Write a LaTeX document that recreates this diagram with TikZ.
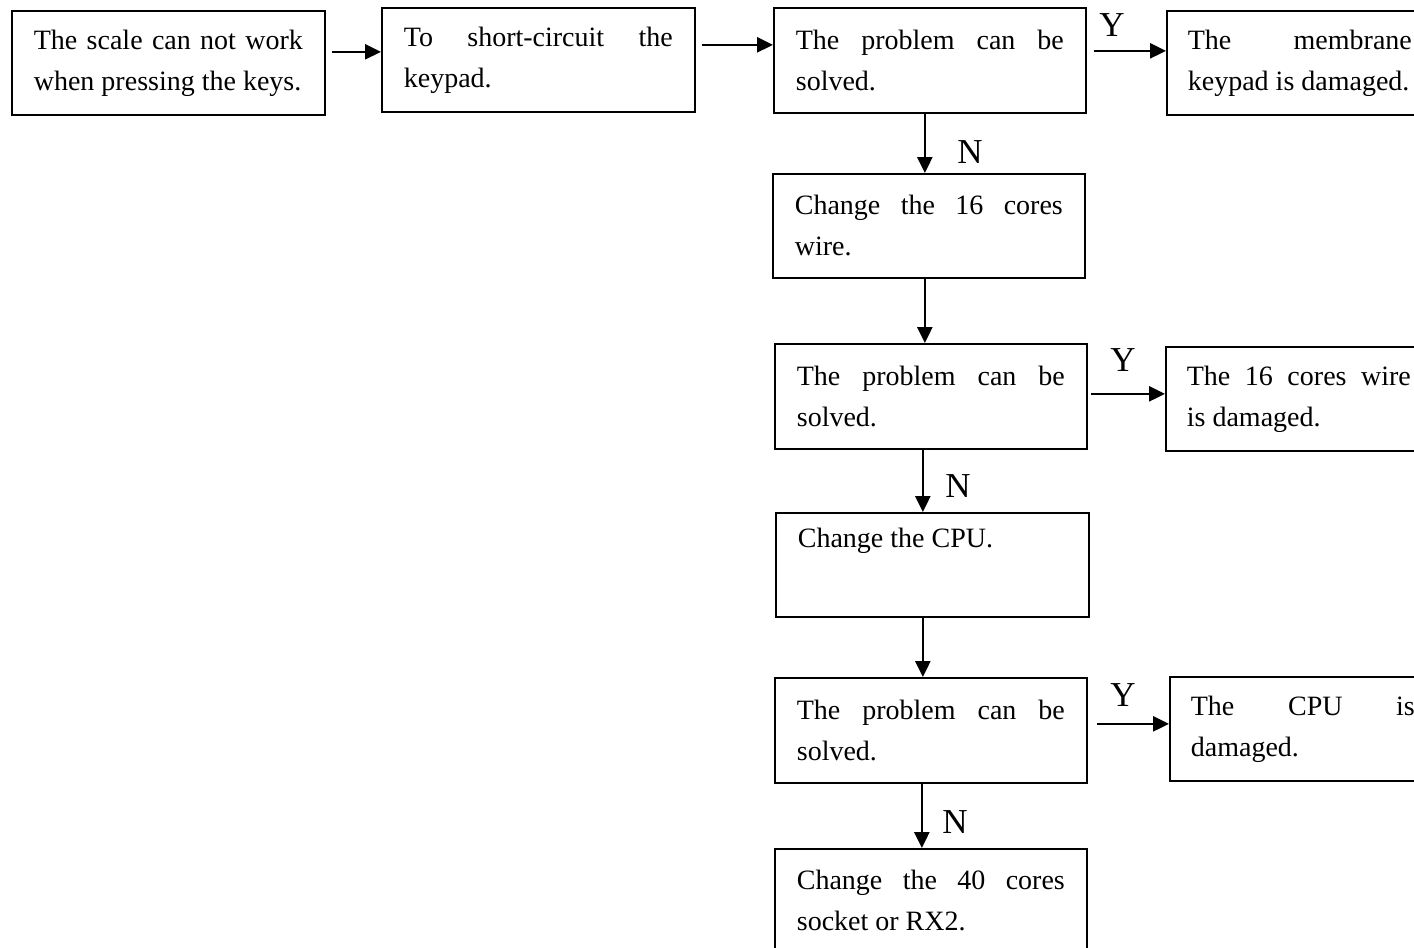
\documentclass[tikz,border=0pt]{standalone}
\usepackage{fontspec}
\setmainfont{Liberation Serif}
\usetikzlibrary{arrows.meta}
\newcommand{\jl}[1]{\makebox[\linewidth][s]{#1}\\}
\begin{document}
\begin{tikzpicture}[x=1pt,y=-1pt,
  box/.style={draw, line width=1.7pt, minimum height=104pt, inner sep=0pt, anchor=north west, font=\fontsize{28}{41}\selectfont},
  arr/.style={line width=2.6pt, -{Triangle[length=16pt,width=15pt]}},
  lab/.style={font=\fontsize{35}{35}\selectfont, inner sep=0pt}]
\useasboundingbox (0,0) rectangle (1414,948);
\clip (0,0) rectangle (1414,948);
\fill[white] (0,0) rectangle (1414,948);

\node[box, minimum width=313pt] (A) at (11,10) {\parbox{269pt}{\jl{The scale can not work}when pressing the keys.}};
\node[box, minimum width=313pt] (B) at (381,7) {\parbox{269pt}{\jl{To short-circuit the}keypad.}};
\node[box, minimum width=312pt, minimum height=105pt] (C) at (773,7) {\parbox{268pt}{\jl{The problem can be}solved.}};
\node[box, minimum width=266pt] (D) at (1166,10) {\parbox{224pt}{\jl{The membrane}keypad is damaged.}};
\node[box, minimum width=312pt] (E) at (772,173) {\parbox{268pt}{\jl{Change the 16 cores}wire.}};
\node[box, minimum width=312pt, minimum height=105pt] (F) at (774,343) {\parbox{268pt}{\jl{The problem can be}solved.}};
\node[box, minimum width=266pt] (G) at (1165,346) {\parbox{224pt}{\jl{The 16 cores wire}is damaged.}};
\node[box, minimum width=313pt] (H) at (775,512) {\parbox{269pt}{Change the CPU.\\\strut}};
\node[box, minimum width=312pt, minimum height=105pt] (I) at (774,677) {\parbox{268pt}{\jl{The problem can be}solved.}};
\node[box, minimum width=266pt] (J) at (1169,676) {\parbox{224pt}{\jl{The CPU is}damaged.}};
\node[box, minimum width=312pt] (K) at (774,848) {\parbox{268pt}{\jl{Change the 40 cores}socket or RX2.}};

% horizontal arrows
\coordinate (ab) at ([yshift=11pt]A.east);
\draw[arr, shorten <=6pt] (ab) -- (ab -| B.west);
\coordinate (bc) at ([yshift=15pt]B.east);
\draw[arr, shorten <=6pt] (bc) -- (bc -| C.west);
\coordinate (cd) at ([yshift=9.5pt]C.east);
\draw[arr, shorten <=7pt] (cd) -- (cd -| D.west);
\coordinate (fg) at ([yshift=2.5pt]F.east);
\draw[arr, shorten <=3pt] (fg) -- (fg -| G.west);
\coordinate (ij) at ([yshift=6.5pt]I.east);
\draw[arr, shorten <=9pt] (ij) -- (ij -| J.west);

% vertical arrows
\coordinate (ce) at ([xshift=-5pt]C.south);
\draw[arr] (ce) -- (ce |- E.north);
\coordinate (ef) at ([xshift=-4pt]E.south);
\draw[arr] (ef) -- (ef |- F.north);
\coordinate (fh) at ([xshift=-8pt]F.south);
\draw[arr] (fh) -- (fh |- H.north);
\coordinate (hi) at ([xshift=-9.5pt]H.south);
\draw[arr] (hi) -- (hi |- I.north);
\coordinate (ik) at ([xshift=-9pt]I.south);
\draw[arr] (ik) -- (ik |- K.north);

% labels
\node[lab] (y1) at (1112,25) {Y};
\node[lab] (n1) at (970,152) {N};
\node[lab] (y2) at (1123,360) {Y};
\node[lab] (n2) at (958,486) {N};
\node[lab] (y3) at (1123,695) {Y};
\node[lab] (n3) at (955,822) {N};
\end{tikzpicture}
\end{document}
